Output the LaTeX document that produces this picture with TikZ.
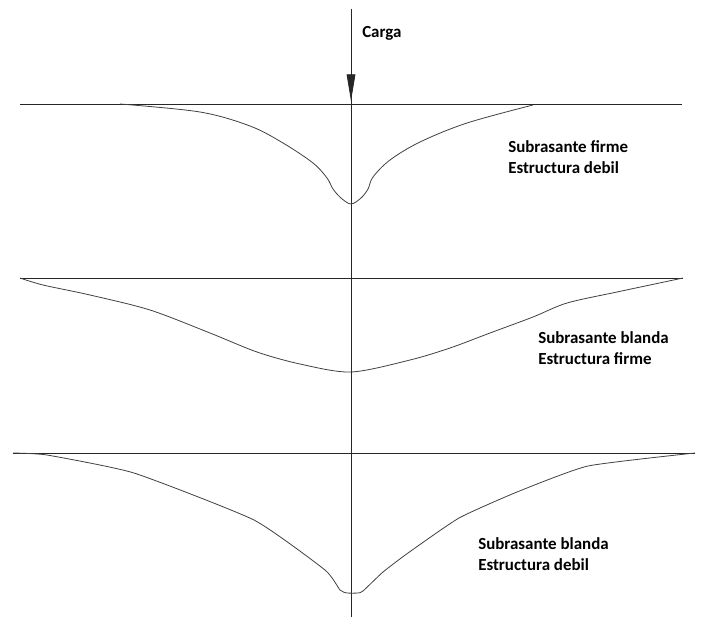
\documentclass[tikz,border=0pt]{standalone}
\usepackage{fontspec}
\setmainfont{Carlito}
\usetikzlibrary{arrows.meta}
\begin{document}
\begin{tikzpicture}[x=0.75pt,y=-0.75pt,
  ln/.style={line width=0.6pt,draw=black!85},
  cv/.style={line width=0.6pt,draw=black!75},
  lbl/.style={font=\bfseries\fontsize{12.7}{15.5}\selectfont,align=left,anchor=west,inner sep=0pt}]
\useasboundingbox (0,0) rectangle (702,617);
% axis
\coordinate (top) at (351,9);
\coordinate (bot) at (351,617);
\coordinate (tip) at (351,101);
\draw[ln] (top) -- (bot);
\draw[ln,-{Triangle[length=20pt,width=6.5pt]}] (top) -- (tip);
\node[lbl] (carga) at (362,33) {Carga};
% surface lines
\coordinate (a1) at (20,104); \coordinate (b1) at (682,104);
\coordinate (a2) at (20,278); \coordinate (b2) at (683,278);
\coordinate (a3) at (13,453); \coordinate (b3) at (695,453);
\draw[ln] (a1) -- (b1);
\draw[ln] (a2) -- (b2);
\draw[ln] (a3) -- (b3);
% curve 1
\draw[cv] plot[smooth,tension=0.55] coordinates {(120,104) (200,112) (250,126) (283,143) (313,163) (327,178) (333,189) (341,198) (351,204) (361,198) (368,189) (373,177) (390,160) (420,142) (467,123) (533,105)};
% curve 2
\draw[cv] plot[smooth,tension=0.5] coordinates {(20,278) (43,285) (90,295) (150,310) (210,333) (257,352) (300,364) (351,372) (410,360) (450,348) (490,333) (533,317) (567,303) (617,292) (650,285) (683,278)};
% curve 3
\draw[cv] plot[smooth,tension=0.3] coordinates {(13,453) (47,455) (134,473) (254,520) (325,570) (340,590) (347,593) (358,593) (363,591) (383,572) (408,553) (459,518) (517,492) (588,466) (695,453)};
% labels
\node[lbl] (l1) at (508,157) {Subrasante firme\\Estructura debil};
\node[lbl] (l2) at (538,348) {Subrasante blanda\\Estructura firme};
\node[lbl] (l3) at (478,554) {Subrasante blanda\\Estructura debil};
\end{tikzpicture}
\end{document}
